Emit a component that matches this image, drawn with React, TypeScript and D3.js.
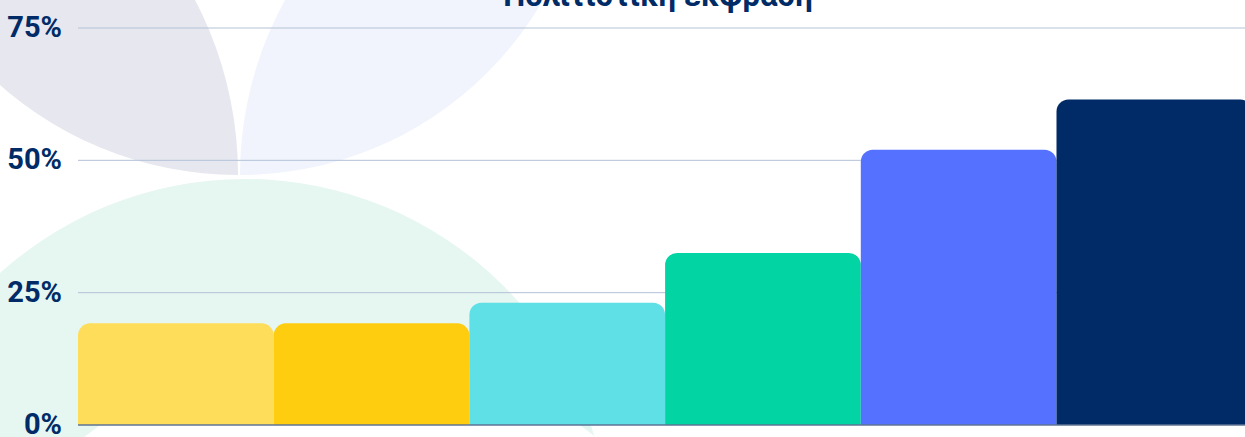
import React from "react";
import * as d3 from "d3";

const title = "Πολιτιστική έκφραση";
const categories = ["Κ1", "Κ2", "Κ3", "Κ4", "Κ5", "Κ6"];
const values = [19.2, 19.2, 23.1, 32.5, 52.0, 61.5];
const barColors = ["#FEDD5A", "#FFCD0F", "#5EE0E6", "#02D5A3", "#5472FF", "#002B66"];
const yTicks = [0, 25, 50, 75];

const W = 1245;
const H = 437;
const left = 78;
const bandW = 195.7;
const y0 = 425;
const y75 = 28;

export default function App() {
  const x = d3
    .scaleBand<string>()
    .domain(categories)
    .range([left, left + bandW * categories.length])
    .padding(0);
  const y = d3.scaleLinear().domain([0, 75]).range([y0, y75]);
  const r = 12;

  const barPath = (x0: number, w: number, top: number, bottom: number) => {
    const p = d3.path();
    p.moveTo(x0, bottom);
    p.lineTo(x0, top + r);
    p.arcTo(x0, top, x0 + r, top, r);
    p.lineTo(x0 + w - r, top);
    p.arcTo(x0 + w, top, x0 + w, top + r, r);
    p.lineTo(x0 + w, bottom);
    p.closePath();
    return p.toString();
  };

  return (
    <div style={{ position: "fixed", left: 0, top: 0, width: W, height: H, background: "#fff" }}>
      <svg width={W} height={H} style={{ display: "block", overflow: "hidden" }}>
        <defs>
          <clipPath id="cA">
            <circle cx={-140} cy={175} r={378} />
          </clipPath>
          <clipPath id="cC">
            <circle cx={603} cy={175} r={363} />
          </clipPath>
          <clipPath id="plot">
            <rect x={0} y={0} width={W} height={H} />
          </clipPath>
        </defs>
        {/* background decorative shapes */}
        <circle cx={245} cy={545} r={366} fill="#E6F6F1" />
        <circle cx={340} cy={760} r={412} fill="#FFFFFF" />
        <circle cx={238} cy={-185} r={360} fill="#E6E7EF" clipPath="url(#cA)" />
        <circle cx={240} cy={-175} r={350} fill="#F1F4FC" clipPath="url(#cC)" />

        {/* title */}
        <text
          x={658}
          y={6}
          textAnchor="middle"
          fontFamily="Roboto, sans-serif"
          fontWeight="bold"
          fontSize={31}
          fill="#002B66"
        >
          {title}
        </text>

        {/* gridlines */}
        {yTicks.filter((t) => t > 0).map((t) => (
          <line
            key={t}
            x1={left}
            x2={W}
            y1={y(t)}
            y2={y(t)}
            stroke="#B4C2D6"
            strokeWidth={1}
          />
        ))}

        {/* bars */}
        <g clipPath="url(#plot)">
          {categories.map((c, i) => (
            <path
              key={c}
              d={barPath(x(c)!, x.bandwidth(), y(values[i]), y(0))}
              fill={barColors[i]}
            />
          ))}
        </g>

        {/* baseline */}
        <line x1={left} x2={W} y1={y(0)} y2={y(0)} stroke="#5E7595" strokeWidth={1.5} />

        {/* tick labels */}
        {yTicks.map((t) => (
          <text
            key={t}
            x={62}
            y={y(t) - 1}
            textAnchor="end"
            dominantBaseline="central"
            fontFamily="Roboto, sans-serif"
            fontWeight="bold"
            fontSize={29}
            fill="#002B66"
          >
            {t + "%"}
          </text>
        ))}
      </svg>
    </div>
  );
}
